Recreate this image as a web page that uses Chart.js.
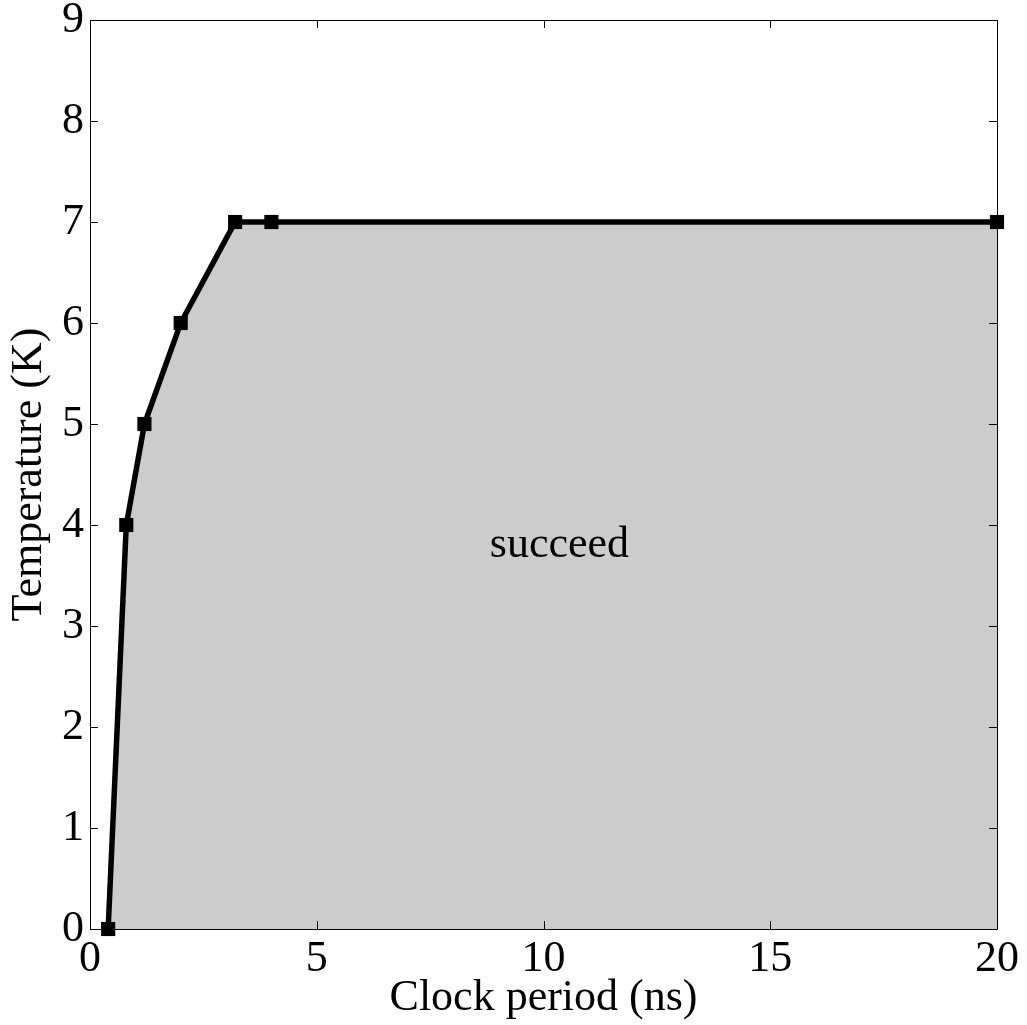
<!DOCTYPE html>
<html>
<head>
<meta charset="utf-8">
<script src="https://cdn.jsdelivr.net/npm/chart.js@4/dist/chart.umd.min.js"></script>
<style>
  html, body { margin: 0; padding: 0; background: #ffffff; }
  #wrap { width: 1027px; height: 1025px; }
</style>
</head>
<body>
<div id="wrap"><canvas id="chart" width="1027" height="1025"></canvas></div>
<script>
// Clock period (ns) vs. highest working temperature (K)
const clockPeriods = [0.4, 0.8, 1.2, 2, 3.2, 4, 20];
const temperatures = [0, 4, 5, 6, 7, 7, 7];
const xTicks = [0, 5, 10, 15, 20];
const yTicks = [0, 1, 2, 3, 4, 5, 6, 7, 8, 9];
const regionLabel = 'succeed';
const regionLabelAt = [10.35, 3.8];

const serif = '"Liberation Serif", "Times New Roman", serif';

// Box frame with inward tick marks on all four sides, plus the region label
const framePlugin = {
  id: 'frame',
  afterDatasetsDraw(chart) {
    const { ctx, chartArea: a, scales: { x, y } } = chart;
    const len = 8;
    ctx.save();
    ctx.strokeStyle = '#000';
    ctx.lineWidth = 1;
    ctx.beginPath();
    ctx.rect(a.left + 0.5, a.top + 0.5, a.right - a.left, a.bottom - a.top);
    xTicks.forEach(v => {
      const px = Math.round(x.getPixelForValue(v)) + 0.5;
      ctx.moveTo(px, a.bottom); ctx.lineTo(px, a.bottom - len);
      ctx.moveTo(px, a.top); ctx.lineTo(px, a.top + len);
    });
    yTicks.forEach(v => {
      const py = Math.round(y.getPixelForValue(v)) + 0.5;
      ctx.moveTo(a.left, py); ctx.lineTo(a.left + len, py);
      ctx.moveTo(a.right, py); ctx.lineTo(a.right - len, py);
    });
    ctx.stroke();

    ctx.fillStyle = '#000';
    ctx.font = '44px ' + serif;
    ctx.textAlign = 'center';
    ctx.textBaseline = 'middle';
    ctx.fillText(regionLabel,
      x.getPixelForValue(regionLabelAt[0]),
      y.getPixelForValue(regionLabelAt[1]));
    ctx.restore();
  }
};

new Chart(document.getElementById('chart'), {
  type: 'line',
  data: {
    datasets: [{
      data: clockPeriods.map((c, i) => ({ x: c, y: temperatures[i] })),
      borderColor: '#000',
      borderWidth: 5.5,
      backgroundColor: '#cccccc',
      fill: 'origin',
      pointStyle: 'rect',
      pointRadius: 10,
      pointBorderWidth: 0,
      pointBackgroundColor: '#000',
      tension: 0,
      clip: false
    }]
  },
  options: {
    responsive: false,
    animation: false,
    events: [],
    layout: { padding: { top: 20, right: 30, left: 3, bottom: 0 } },
    plugins: { legend: { display: false }, tooltip: { enabled: false } },
    scales: {
      x: {
        type: 'linear',
        min: 0, max: 20,
        afterBuildTicks(s) { s.ticks = xTicks.map(v => ({ value: v })); },
        afterFit(s) { s.height = 96; s.paddingLeft = 0; s.paddingRight = 0; },
        grid: { display: false, drawTicks: false },
        border: { display: false },
        ticks: { color: '#000', font: { family: serif, size: 44 }, padding: 4, maxRotation: 0, autoSkip: false },
        title: { display: true, text: 'Clock period (ns)', color: '#000', font: { family: serif, size: 44 }, padding: { top: 0, bottom: 0 } }
      },
      y: {
        type: 'linear',
        min: 0, max: 9,
        afterBuildTicks(s) { s.ticks = yTicks.map(v => ({ value: v })); },
        afterFit(s) { s.width = 87; s.paddingTop = 0; s.paddingBottom = 0; },
        grid: { display: false, drawTicks: false },
        border: { display: false },
        ticks: { color: '#000', font: { family: serif, size: 44 }, padding: 6, autoSkip: false },
        title: { display: true, text: 'Temperature (K)', color: '#000', font: { family: serif, size: 44 }, padding: { top: 0, bottom: 0 } }
      }
    }
  },
  plugins: [framePlugin]
});
</script>
</body>
</html>
